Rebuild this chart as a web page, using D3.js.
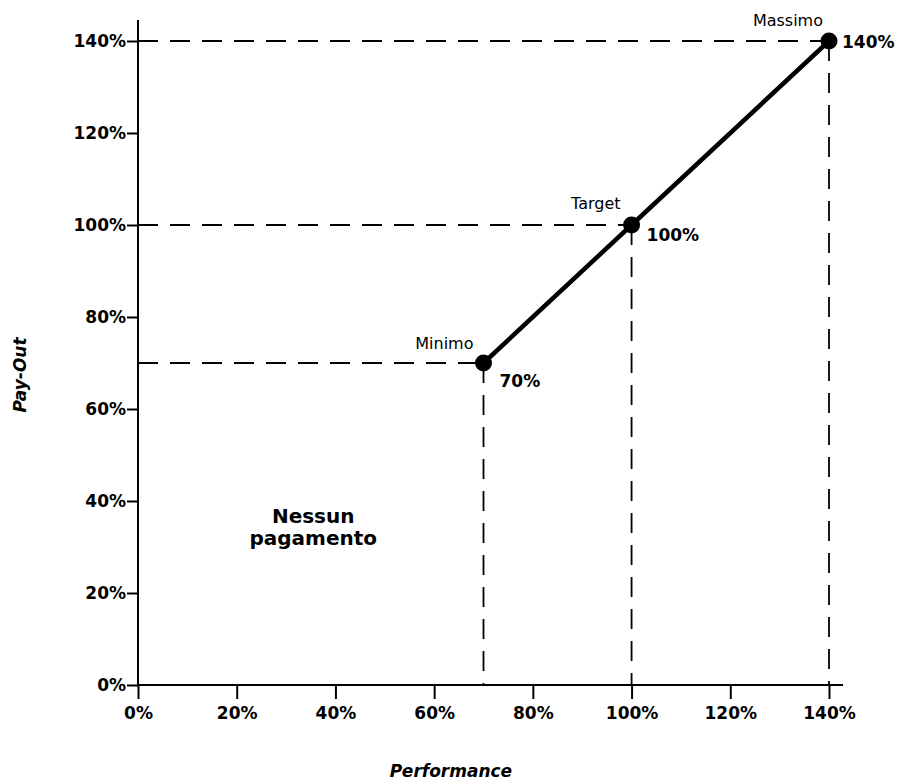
<!DOCTYPE html>
<html>
<head>
<meta charset="utf-8">
<script src="https://cdn.jsdelivr.net/npm/d3@7"></script>
<style>
  html, body { margin: 0; padding: 0; background: #fff; }
  svg { display: block; }
  text { font-family: "DejaVu Sans", "Liberation Sans", Arial, sans-serif; fill: #000; }
</style>
</head>
<body>
<svg id="chart" width="900" height="783"></svg>
<script>
// ---- data ----
const xTicks = [0, 20, 40, 60, 80, 100, 120, 140];
const yTicks = [0, 20, 40, 60, 80, 100, 120, 140];
const performance = [70, 100, 140];
const payout = [70, 100, 140];
const pointNames = ["Minimo", "Target", "Massimo"];
const pointValueLabels = ["70%", "100%", "140%"];
const noPayText = ["Nessun", "pagamento"];
const xTitle = "Performance";
const yTitle = "Pay-Out";

// ---- layout ----
const svg = d3.select("#chart");
const x = d3.scaleLinear().domain([0, 140]).range([138, 829]);
const y = d3.scaleLinear().domain([0, 140]).range([685, 41]);
const fmt = d => d + "%";

// axes
const xAxis = svg.append("g").attr("transform", `translate(0,${y(0)})`)
  .call(d3.axisBottom(x).tickValues(xTicks).tickFormat(fmt).tickSize(14).tickPadding(8));
xAxis.select(".domain").attr("d", `M${x(0)},0H${x(140) + 14}`);
const yAxis = svg.append("g").attr("transform", `translate(${x(0)},0)`)
  .call(d3.axisLeft(y).tickValues(yTicks).tickFormat(fmt).tickSize(11).tickPadding(1));
yAxis.select(".domain").attr("d", `M0,${y(0)}V20`);

[xAxis, yAxis].forEach(g => {
  g.selectAll(".domain, .tick line").attr("stroke", "#000").attr("stroke-width", 2);
  g.selectAll(".tick text").attr("fill", "#000")
    .style("font-size", "17px").style("font-weight", "bold");
});

// dashed guide lines
const pts = performance.map((p, i) => ({ px: p, py: payout[i], name: pointNames[i], val: pointValueLabels[i] }));
const guides = svg.append("g").attr("stroke", "#000").attr("stroke-width", 1.8)
  .attr("stroke-dasharray", "20,12").attr("fill", "none");
pts.forEach(d => {
  guides.append("line").attr("x1", x(0)).attr("x2", x(d.px)).attr("y1", y(d.py)).attr("y2", y(d.py));
  guides.append("line").attr("x1", x(d.px)).attr("x2", x(d.px)).attr("y1", y(d.py)).attr("y2", y(0));
});

// solid line
svg.append("path").datum(pts)
  .attr("d", d3.line().x(d => x(d.px)).y(d => y(d.py)))
  .attr("fill", "none").attr("stroke", "#000").attr("stroke-width", 4.5);

// dots
svg.selectAll("circle.pt").data(pts).join("circle").attr("class", "pt")
  .attr("cx", d => x(d.px)).attr("cy", d => y(d.py)).attr("r", 8.5).attr("fill", "#000");

// labels
const nameOff = [[-10, -14], [-11, -16], [-6, -15]];
const valOff = [[16, 24], [15, 16], [13, 7]];
svg.selectAll("text.pname").data(pts).join("text").attr("class", "pname")
  .attr("x", (d, i) => x(d.px) + nameOff[i][0]).attr("y", (d, i) => y(d.py) + nameOff[i][1])
  .attr("text-anchor", "end").style("font-size", "16px").text(d => d.name);
svg.selectAll("text.pval").data(pts).join("text").attr("class", "pval")
  .attr("x", (d, i) => x(d.px) + valOff[i][0]).attr("y", (d, i) => y(d.py) + valOff[i][1])
  .attr("text-anchor", "start").style("font-size", "17px").style("font-weight", "bold").text(d => d.val);

// annotation
svg.selectAll("text.nopay").data(noPayText).join("text").attr("class", "nopay")
  .attr("x", x(35.5)).attr("y", (d, i) => y(35.2) + i * 22)
  .attr("text-anchor", "middle").style("font-size", "20px").style("font-weight", "bold").text(d => d);

// axis titles
svg.append("text").attr("x", 451).attr("y", 777).attr("text-anchor", "middle")
  .style("font-size", "17px").style("font-weight", "bold").style("font-style", "italic").text(xTitle);
svg.append("text").attr("transform", "translate(26,375) rotate(-90)").attr("text-anchor", "middle")
  .style("font-size", "17px").style("font-weight", "bold").style("font-style", "italic").text(yTitle);
</script>
</body>
</html>
